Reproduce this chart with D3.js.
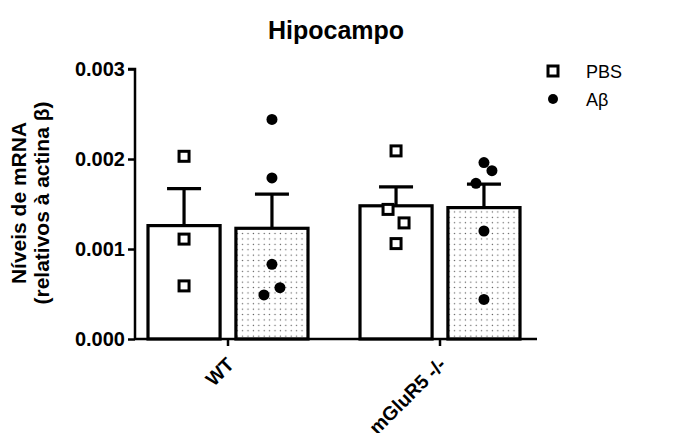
<!DOCTYPE html>
<html>
<head>
<meta charset="utf-8">
<script src="https://cdn.jsdelivr.net/npm/d3@7"></script>
<style>
  body { margin: 0; background: #fff; }
  text { font-family: "Liberation Sans", Arial, sans-serif; }
</style>
</head>
<body>
<div id="vis"></div>
<script>
// groups and treatments
var groups = ["WT", "mGluR5 -/-"],
  treatments = ["PBS", "Aβ"],
  yTicks = [0, 0.001, 0.002, 0.003];

// bar heights (mean) and error (SEM), per group, per treatment
var meanWT = [0.00126, 0.00123],
  meanKO = [0.00148, 0.00146],
  semWT = [0.00041, 0.00038],
  semKO = [0.00021, 0.00026];

// individual animals
var ptsWT_PBS = [0.00203, 0.00111, 0.00059],
  ptsWT_AB = [0.00244, 0.00179, 0.00083, 0.00057, 0.00049],
  ptsKO_PBS = [0.00209, 0.00144, 0.00129, 0.00106],
  ptsKO_AB = [0.00196, 0.00187, 0.00173, 0.00120, 0.00044];
// which side a point was nudged to (-1 left, 0 centre, 1 right)
var sideWT_PBS = [0, 0, 0],
  sideWT_AB = [0, 0, 0, 1, -1],
  sideKO_PBS = [0, -1, 1, 0],
  sideKO_AB = [0, 1, -1, 0, 0];

var width = 688, height = 433;
var margin = {top: 69, left: 135, bottom: 94, right: 151};

// build rows from the arrays
var bars = [
  {g: groups[0], t: treatments[0], mean: meanWT[0], sem: semWT[0], pts: ptsWT_PBS, side: sideWT_PBS},
  {g: groups[0], t: treatments[1], mean: meanWT[1], sem: semWT[1], pts: ptsWT_AB, side: sideWT_AB},
  {g: groups[1], t: treatments[0], mean: meanKO[0], sem: semKO[0], pts: ptsKO_PBS, side: sideKO_PBS},
  {g: groups[1], t: treatments[1], mean: meanKO[1], sem: semKO[1], pts: ptsKO_AB, side: sideKO_AB}
];

var svg = d3.select("#vis").append("svg")
  .attr("width", width)
  .attr("height", height);

// dotted fill for the Aβ bars
var pat = svg.append("defs").append("pattern")
  .attr("id", "dots")
  .attr("patternUnits", "userSpaceOnUse")
  .attr("width", 5.4).attr("height", 5.4);
pat.append("circle").attr("cx", 1.3).attr("cy", 1.3).attr("r", 0.7).attr("fill", "#555");

var y = d3.scaleLinear()
  .domain([0, 0.003])
  .range([height - margin.bottom, margin.top]);

var x0 = d3.scaleBand()
  .domain(groups)
  .range([122, 546]);

var x1 = d3.scaleBand()
  .domain(treatments)
  .range([26, 186])
  .paddingInner(0.18);

// title
svg.append("text")
  .attr("x", 336).attr("y", 39)
  .attr("text-anchor", "middle")
  .style("font-size", "25px").style("font-weight", "bold")
  .text("Hipocampo");

// bars
var g = svg.selectAll(".bar")
  .data(bars).enter()
  .append("g")
  .attr("transform", function(d) { return "translate(" + (x0(d.g) + x1(d.t)) + ",0)"; });

g.append("rect")
  .attr("x", 0)
  .attr("width", x1.bandwidth())
  .attr("y", function(d) { return y(d.mean); })
  .attr("height", function(d) { return y(0) - y(d.mean); })
  .attr("fill", function(d, i) { return d.t == "PBS" ? "#fff" : "url(#dots)"; })
  .attr("stroke", "#000")
  .attr("stroke-width", 3.2);

// error bars (upper only)
var bw = x1.bandwidth();
g.append("line")
  .attr("x1", bw / 2).attr("x2", bw / 2)
  .attr("y1", function(d) { return y(d.mean); })
  .attr("y2", function(d) { return y(d.mean + d.sem); })
  .attr("stroke", "#000").attr("stroke-width", 3.2);
g.append("line")
  .attr("x1", bw / 2 - 17).attr("x2", bw / 2 + 17)
  .attr("y1", function(d) { return y(d.mean + d.sem); })
  .attr("y2", function(d) { return y(d.mean + d.sem); })
  .attr("stroke", "#000").attr("stroke-width", 3.2);

// points
g.each(function(d) {
  var sel = d3.select(this);
  var pts = d.pts.map(function(v, i) { return {v: v, s: d.side[i]}; });
  if (d.t == "PBS") {
    sel.selectAll(".pt").data(pts).enter().append("rect")
      .attr("x", function(p) { return bw / 2 + p.s * 8 - 5; })
      .attr("y", function(p) { return y(p.v) - 5; })
      .attr("width", 10).attr("height", 10)
      .attr("fill", "#fff").attr("stroke", "#000").attr("stroke-width", 3);
  } else {
    sel.selectAll(".pt").data(pts).enter().append("circle")
      .attr("cx", function(p) { return bw / 2 + p.s * 8; })
      .attr("cy", function(p) { return y(p.v); })
      .attr("r", 5.5)
      .attr("fill", "#000");
  }
});

// y axis
var yAxis = svg.append("g")
  .attr("transform", "translate(" + margin.left + ",0)")
  .call(d3.axisLeft(y).tickValues(yTicks).tickFormat(d3.format(".3f")).tickSize(7).tickPadding(3));
yAxis.select(".domain").attr("stroke-width", 2.5).attr("d", "M-7," + y(0.003) + "H0V" + y(0));
yAxis.selectAll(".tick line").attr("stroke-width", 2.5);
yAxis.selectAll(".tick text")
  .style("font-size", "20px").style("font-weight", "bold").attr("fill", "#000");

// x axis
var xAxis = svg.append("g")
  .attr("transform", "translate(0," + y(0) + ")")
  .call(d3.axisBottom(x0).tickSize(7).tickPadding(4));
xAxis.select(".domain").attr("stroke-width", 2.5).attr("d", "M" + margin.left + ",0H537");
xAxis.selectAll(".tick line").attr("stroke-width", 2.5);
xAxis.selectAll(".tick text")
  .style("font-size", "19.5px").style("font-weight", "bold").attr("fill", "#000")
  .attr("text-anchor", "end")
  .attr("dx", "-14px").attr("dy", "13px")
  .attr("transform", "rotate(-45)");

// y axis title
var yl = svg.append("text")
  .attr("transform", "translate(26," + 203 + ") rotate(-90)")
  .attr("text-anchor", "middle")
  .style("font-size", "21px").style("font-weight", "bold");
yl.append("tspan").attr("x", 0).attr("y", 0).text("Níveis de mRNA");
yl.append("tspan").attr("x", 0).attr("y", 23).text("(relativos à actina β)");

// legend
var leg = svg.selectAll(".leg")
  .data(treatments).enter()
  .append("g")
  .attr("transform", function(d, i) { return "translate(553," + (71 + i * 28) + ")"; });
leg.filter(function(d) { return d == "PBS"; }).append("rect")
  .attr("x", -5).attr("y", -5).attr("width", 10).attr("height", 10)
  .attr("fill", "#fff").attr("stroke", "#000").attr("stroke-width", 3);
leg.filter(function(d) { return d != "PBS"; }).append("circle")
  .attr("r", 5).attr("fill", "#000");
leg.append("text")
  .attr("x", 33).attr("y", 6.5)
  .style("font-size", "18px")
  .text(function(d) { return d; });
</script>
</body>
</html>
